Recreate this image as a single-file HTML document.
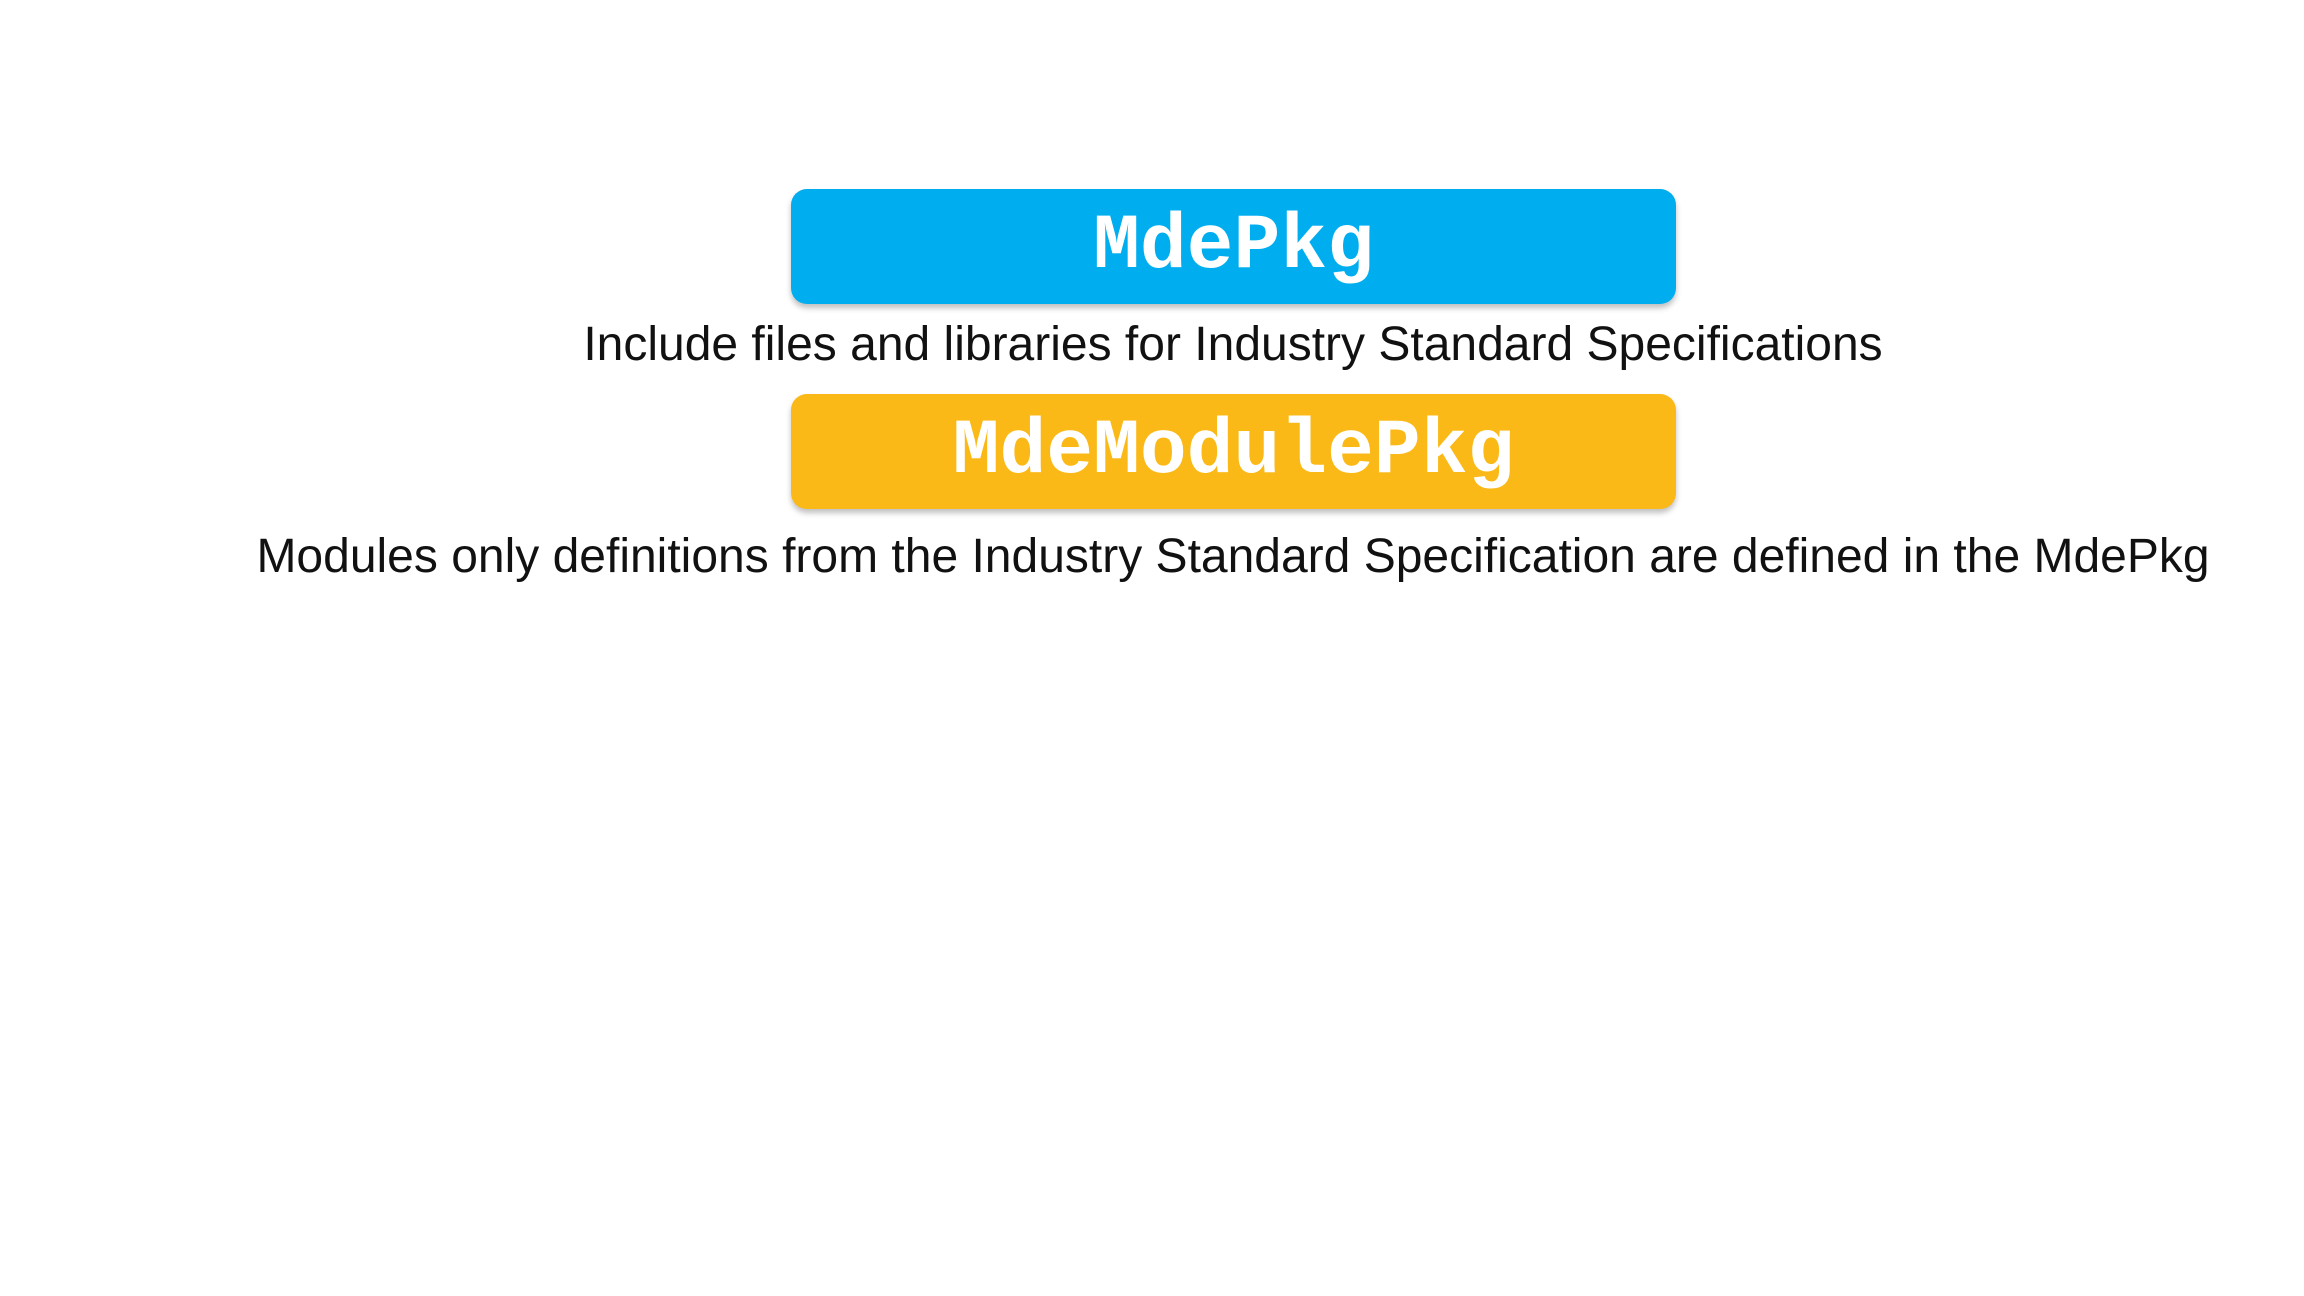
<!DOCTYPE html>
<html><head><style>
body{margin:0;width:2304px;height:1296px;background:#fff;position:relative;overflow:hidden;font-family:"Liberation Sans",sans-serif}
.box{position:absolute;left:791px;width:885px;height:115px;border-radius:16px;box-shadow:0 4px 6px rgba(0,0,0,0.25);display:flex;align-items:center;justify-content:center;color:#fff;font-family:"Liberation Mono",monospace;font-weight:bold;font-size:78px}
.t{position:absolute;left:0;width:2466px;text-align:center;font-size:48px;color:#111;line-height:60px;white-space:nowrap}
</style></head><body>
<div class="box" style="top:189px;background:#00aeef">MdePkg</div>
<div class="t" style="top:315px">Include files and libraries for Industry Standard Specifications</div>
<div class="box" style="top:394px;background:#fbb917">MdeModulePkg</div>
<div class="t" style="top:527px">Modules only definitions from the Industry Standard Specification are defined in the MdePkg</div>
</body></html>
